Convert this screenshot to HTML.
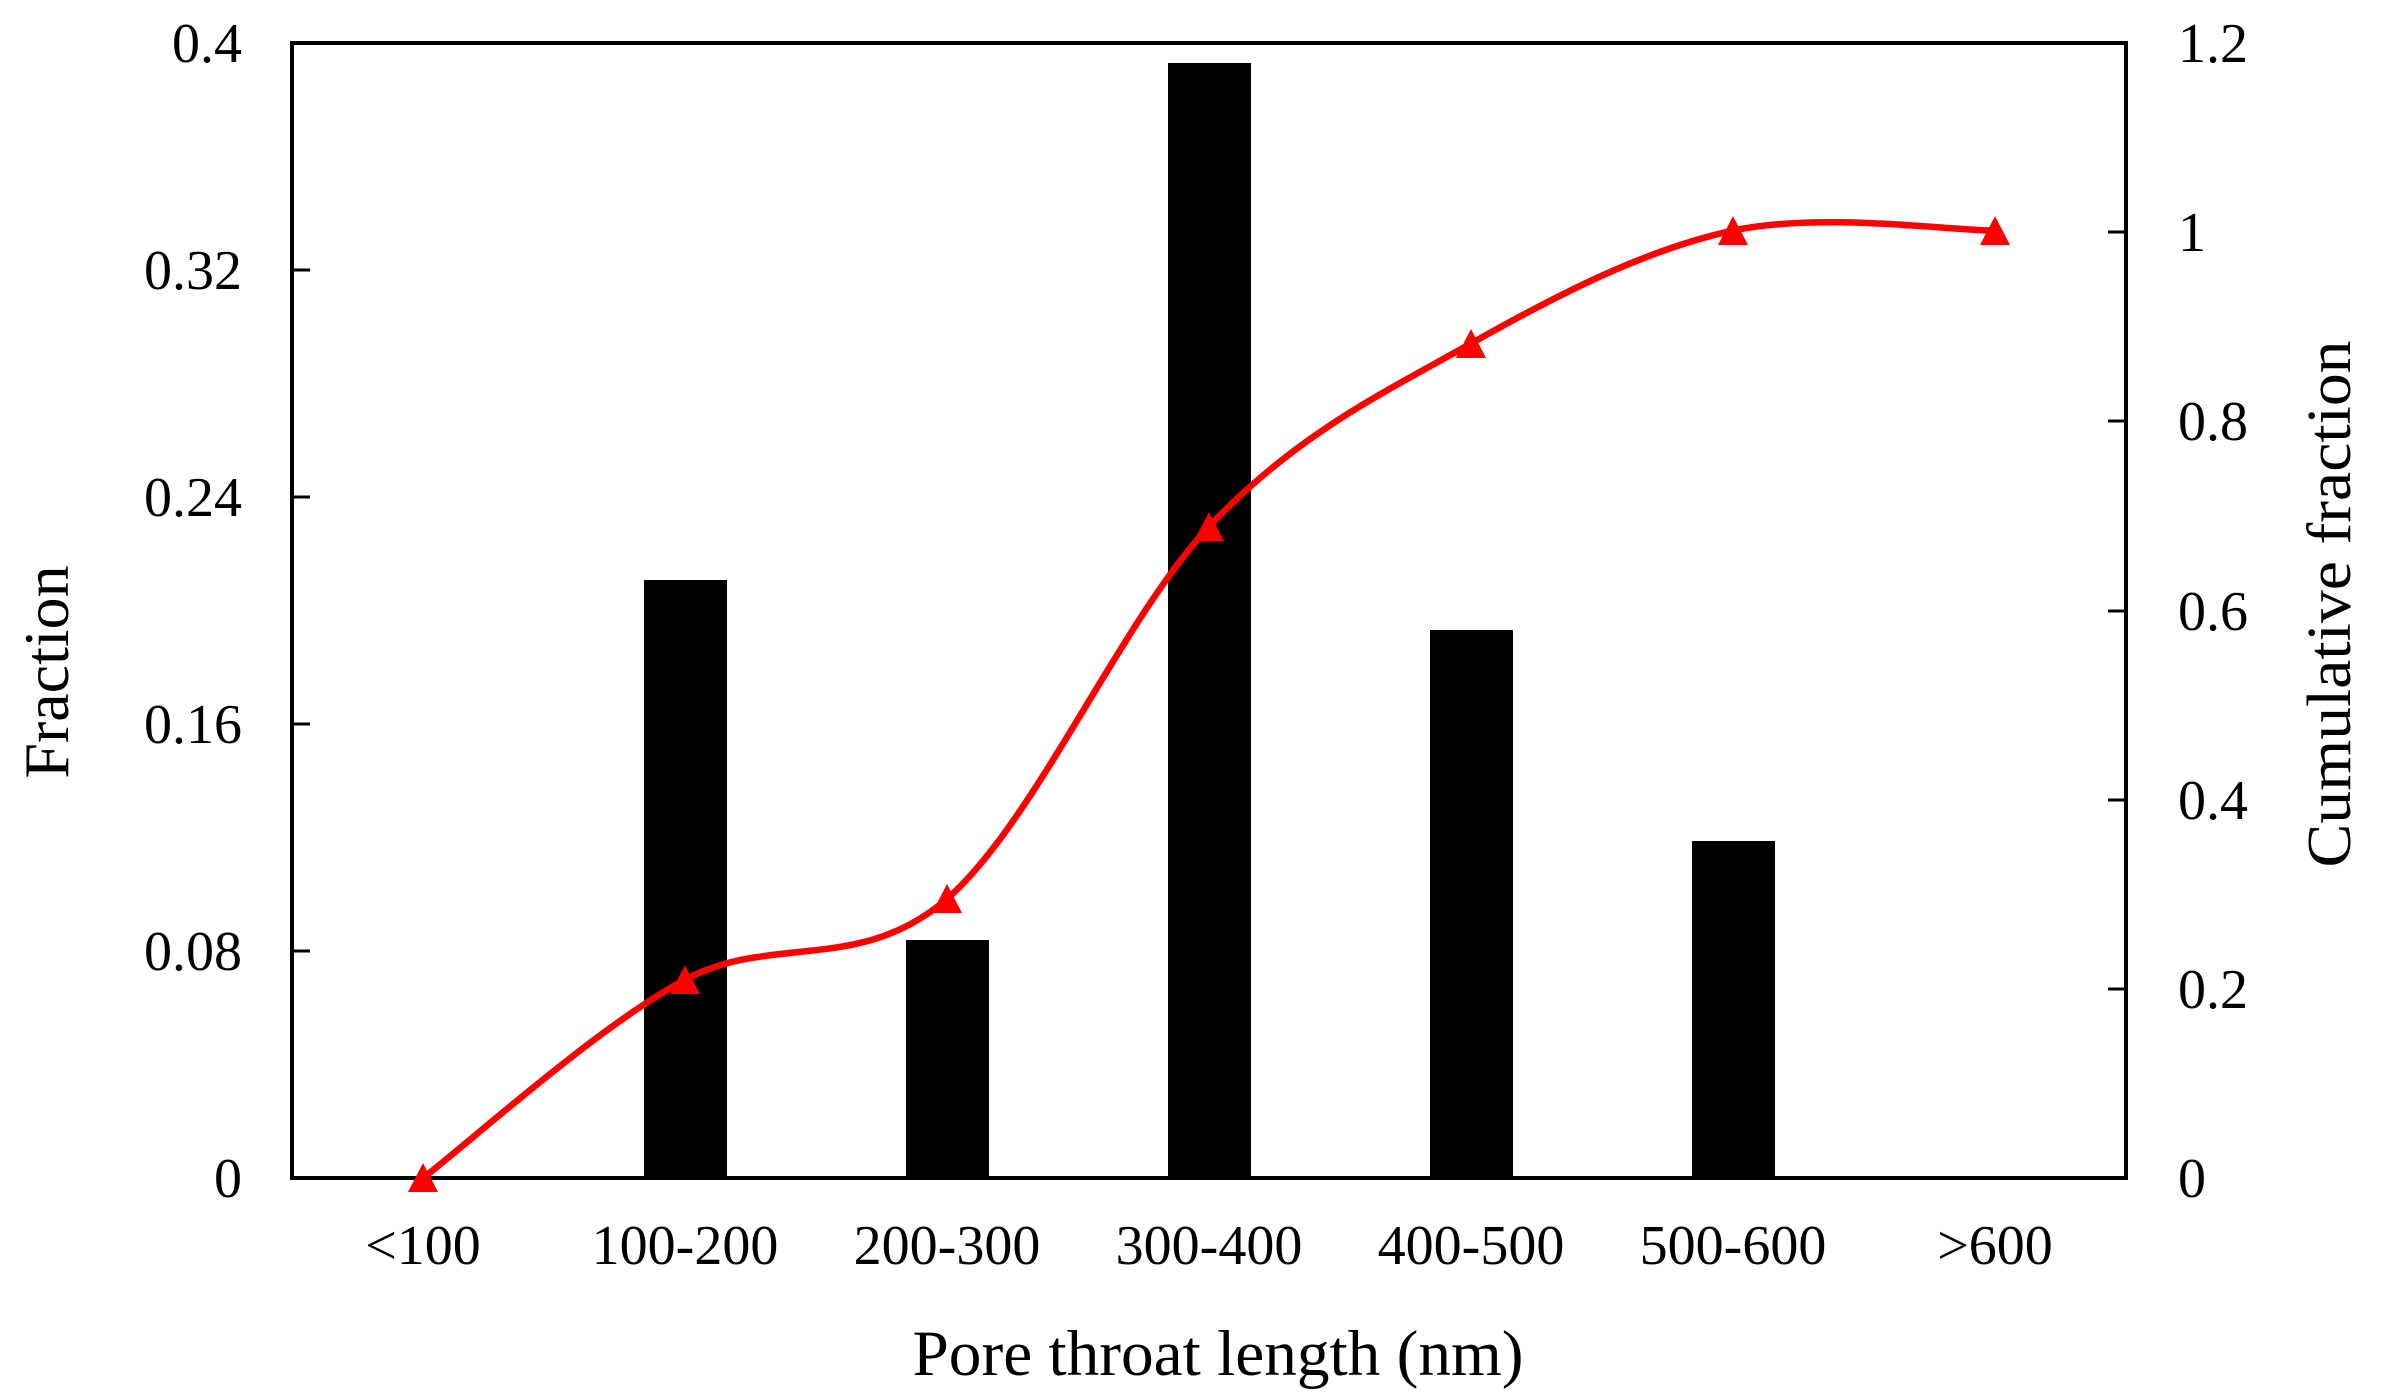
<!DOCTYPE html>
<html><head><meta charset="utf-8"><style>
html,body{margin:0;padding:0;background:#fff;}
svg{display:block;}
text{font-family:"Liberation Serif","DejaVu Serif",serif;fill:#000;}
</style></head><body>
<svg width="2384" height="1397" viewBox="0 0 2384 1397" xmlns="http://www.w3.org/2000/svg">
<rect width="2384" height="1397" fill="#fff"/>
<g fill="#000">
<rect x="644" y="580" width="83" height="598"/>
<rect x="906" y="940" width="83" height="238"/>
<rect x="1168" y="63" width="83" height="1115"/>
<rect x="1430" y="630" width="83" height="548"/>
<rect x="1692" y="841" width="83" height="337"/>
</g>
<rect x="292" y="43" width="1834" height="1135" fill="none" stroke="#000" stroke-width="4"/>
<g stroke="#000" stroke-width="3">
<line x1="292" y1="951" x2="310" y2="951"/>
<line x1="292" y1="724" x2="310" y2="724"/>
<line x1="292" y1="497" x2="310" y2="497"/>
<line x1="292" y1="270" x2="310" y2="270"/>
<line x1="2108" y1="989" x2="2126" y2="989"/>
<line x1="2108" y1="800" x2="2126" y2="800"/>
<line x1="2108" y1="611" x2="2126" y2="611"/>
<line x1="2108" y1="421" x2="2126" y2="421"/>
<line x1="2108" y1="232" x2="2126" y2="232"/>
</g>
<g font-size="56" text-anchor="end">
<text x="242" y="1197">0</text>
<text x="242" y="970">0.08</text>
<text x="242" y="743">0.16</text>
<text x="242" y="516">0.24</text>
<text x="242" y="289">0.32</text>
<text x="242" y="62">0.4</text>
</g>
<g font-size="56" text-anchor="start">
<text x="2178" y="1197">0</text>
<text x="2178" y="1008">0.2</text>
<text x="2178" y="819">0.4</text>
<text x="2178" y="630">0.6</text>
<text x="2178" y="440">0.8</text>
<text x="2178" y="251">1</text>
<text x="2178" y="62">1.2</text>
</g>
<g font-size="56" text-anchor="middle">
<text x="423" y="1264">&lt;100</text>
<text x="685" y="1264">100-200</text>
<text x="947" y="1264">200-300</text>
<text x="1209" y="1264">300-400</text>
<text x="1471" y="1264">400-500</text>
<text x="1733" y="1264">500-600</text>
<text x="1995" y="1264">&gt;600</text>
</g>
<text x="1218" y="1375" font-size="65" text-anchor="middle" textLength="611" lengthAdjust="spacingAndGlyphs">Pore throat length (nm)</text>
<text transform="translate(68,672) rotate(-90)" font-size="64" text-anchor="middle">Fraction</text>
<text transform="translate(2350,604) rotate(-90)" font-size="62" text-anchor="middle" textLength="527" lengthAdjust="spacingAndGlyphs">Cumulative fraction</text>
<path d="M423,1178 C466.7,1144.8 597.7,1026.2 685,979.7 C772.3,933.2 859.7,974.3 947,898.8 C1034.3,823.3 1121.7,619.2 1209,526.6 C1296.3,434 1383.7,392.8 1471,343.5 C1558.3,294.2 1645.7,249.4 1733,230.6 C1820.3,211.8 1951.3,230.6 1995,230.6" fill="none" stroke="#ff0000" stroke-width="6.5"/>
<g fill="#ff0000">
<polygon points="423,1163 408,1192 438,1192"/>
<polygon points="685,965 670,994 700,994"/>
<polygon points="947,884 932,913 962,913"/>
<polygon points="1209,512 1194,541 1224,541"/>
<polygon points="1471,329 1456,358 1486,358"/>
<polygon points="1733,216 1718,245 1748,245"/>
<polygon points="1995,216 1980,245 2010,245"/>
</g>
</svg>
</body></html>
